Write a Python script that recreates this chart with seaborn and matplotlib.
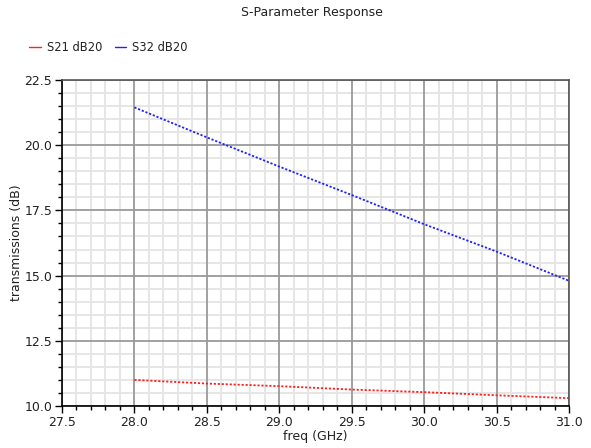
import matplotlib
matplotlib.use("Agg")
import matplotlib.pyplot as plt
import seaborn as sns
import pandas as pd
from matplotlib.ticker import MultipleLocator, FormatStrFormatter, AutoMinorLocator
from matplotlib.lines import Line2D

freq = [28.0, 28.5, 29.0, 29.5, 30.0, 30.5, 31.0]
s21_db20 = [11.00, 10.86, 10.76, 10.63, 10.53, 10.41, 10.30]
s32_db20 = [21.45, 20.30, 19.18, 18.09, 16.97, 15.92, 14.80]
series_names = ["S21 dB20", "S32 dB20"]

df = pd.DataFrame({
    "freq": freq * 2,
    "value": s21_db20 + s32_db20,
    "series": [series_names[0]] * len(freq) + [series_names[1]] * len(freq),
})

sns.set_theme(style="white")
plt.rcParams['font.family'] = ['DejaVu Sans']

fig = plt.figure(figsize=(5.91, 4.48), dpi=100)
rect = [0.1049, 0.0938, 0.8579, 0.7276]
# background axes carrying only the light minor grid
ax_bg = fig.add_axes(rect)
ax = fig.add_axes(rect, sharex=ax_bg, sharey=ax_bg)
ax.patch.set_visible(False)

palette = {series_names[0]: "#ff2020", series_names[1]: "#2020ff"}
sns.lineplot(data=df, x="freq", y="value", hue="series", palette=palette,
             ax=ax, linewidth=1.3, linestyle=(0, (1.2, 1.0)), legend=False)

ax.set_xlim(27.5, 31.0)
ax.set_ylim(10.0, 22.5)
ax.xaxis.set_major_locator(MultipleLocator(0.5))
ax.xaxis.set_minor_locator(AutoMinorLocator(5))
ax.yaxis.set_major_locator(MultipleLocator(2.5))
ax.yaxis.set_minor_locator(AutoMinorLocator(5))
ax.xaxis.set_major_formatter(FormatStrFormatter("%.1f"))
ax.yaxis.set_major_formatter(FormatStrFormatter("%.1f"))

ax_bg.grid(which="minor", color="#e4e4e4", linewidth=1.3)
ax_bg.grid(which="major", visible=False)
ax_bg.tick_params(which="both", left=False, bottom=False, labelleft=False, labelbottom=False)
for s in ax_bg.spines.values():
    s.set_visible(False)

ax.grid(which="major", color="#9a9a9a", linewidth=1.3)
ax.grid(which="minor", visible=False)
ax.set_axisbelow(True)

ax.tick_params(axis="both", which="major", direction="out", length=5, width=1,
               color="black", labelsize=9, colors="#222222", left=True, bottom=True, pad=2)
ax.tick_params(axis="both", which="minor", direction="out", length=3, width=1,
               color="black", left=True, bottom=True)

for side in ["left", "bottom"]:
    ax.spines[side].set_color("black")
    ax.spines[side].set_linewidth(1.2)
for side in ["top", "right"]:
    ax.spines[side].set_color("#555555")
    ax.spines[side].set_linewidth(1.2)

ax.set_xlabel("freq (GHz)", fontsize=9, color="#222222", labelpad=1)
ax.set_ylabel("transmissions (dB)", fontsize=9, color="#222222", labelpad=1)

fig.text(0.527, 0.971, "S-Parameter Response", ha="center", va="center",
         fontsize=9, color="#222222")

handles = [Line2D([0], [0], color=palette[n], linewidth=1.0) for n in series_names]
fig.legend(handles, series_names, loc="center left", bbox_to_anchor=(0.032, 0.895),
           ncol=2, frameon=False, fontsize=8.3, handlelength=1.0, handletextpad=0.5,
           columnspacing=1.1, labelcolor="#222222")

fig.savefig("out.png", dpi=100, facecolor="white")
